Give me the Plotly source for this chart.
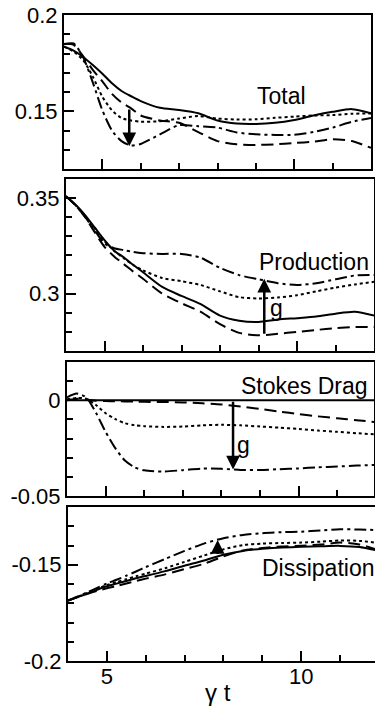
import plotly.graph_objects as go

W, H = 375, 709

# ---------------- data ----------------
t = [4.0, 4.25, 4.5, 4.75, 5.0, 5.25, 5.5, 5.75, 6.0, 6.5, 7.0, 7.5, 8.0,
     8.5, 9.0, 9.5, 10.0, 10.5, 11.0, 11.5, 12.0]

total_solid = [0.1835, 0.1815, 0.1782, 0.1740, 0.1695, 0.1645, 0.1605, 0.1578, 0.1553, 0.1518,
               0.1507, 0.1490, 0.1452, 0.1436, 0.1434, 0.1440, 0.1455, 0.1478, 0.1497, 0.1511, 0.1490]
total_dotted = [0.1835, 0.1810, 0.1765, 0.1680, 0.1575, 0.1505, 0.1465, 0.1452, 0.1446, 0.1448,
                0.1462, 0.1475, 0.1462, 0.1457, 0.1458, 0.1466, 0.1472, 0.1478, 0.1480, 0.1487, 0.1488]
total_dashed = [0.1850, 0.1845, 0.1785, 0.1715, 0.1655, 0.1590, 0.1545, 0.1515, 0.1478, 0.1452,
                0.1440, 0.1392, 0.1345, 0.1328, 0.1325, 0.1328, 0.1335, 0.1342, 0.1355, 0.1345, 0.1310]
total_dashdot = [0.1848, 0.1852, 0.1780, 0.1650, 0.1505, 0.1400, 0.1345, 0.1322, 0.1330, 0.1380,
                 0.1428, 0.1422, 0.1415, 0.1390, 0.1380, 0.1377, 0.1378, 0.1392, 0.1415, 0.1445, 0.1465]

prod_solid = [0.3510, 0.3465, 0.3410, 0.3345, 0.3280, 0.3225, 0.3190, 0.3150, 0.3112, 0.3035,
              0.2988, 0.2945, 0.2885, 0.2858, 0.2852, 0.2865, 0.2872, 0.2880, 0.2895, 0.2905, 0.2885]
prod_dotted = [0.3510, 0.3462, 0.3405, 0.3340, 0.3275, 0.3225, 0.3185, 0.3150, 0.3122, 0.3082,
               0.3065, 0.3045, 0.3012, 0.2982, 0.2975, 0.2980, 0.2992, 0.3012, 0.3032, 0.3048, 0.3062]
prod_dashed = [0.3510, 0.3462, 0.3400, 0.3320, 0.3245, 0.3195, 0.3155, 0.3115, 0.3078, 0.3000,
               0.2950, 0.2905, 0.2840, 0.2795, 0.2782, 0.2790, 0.2800, 0.2810, 0.2820, 0.2825, 0.2825]
prod_dashdot = [0.3510, 0.3462, 0.3400, 0.3330, 0.3262, 0.3238, 0.3228, 0.3218, 0.3212, 0.3208,
                0.3208, 0.3188, 0.3135, 0.3097, 0.3075, 0.3055, 0.3045, 0.3055, 0.3075, 0.3095, 0.3098]

stokes_solid = [0.0] * 21
stokes_dotted = [0.0005, 0.0012, 0.0008, -0.0025, -0.0068, -0.0098, -0.0120, -0.0130, -0.0135, -0.0139,
                 -0.0137, -0.0131, -0.0128, -0.0131, -0.0137, -0.0143, -0.0150, -0.0158, -0.0165, -0.0172, -0.0178]
stokes_dashed = [0.0000, 0.0008, 0.0003, -0.0002, -0.0004, -0.0005, -0.0006, -0.0007, -0.0008, -0.0009,
                 -0.0011, -0.0016, -0.0022, -0.0033, -0.0045, -0.0059, -0.0072, -0.0084, -0.0094, -0.0104, -0.0114]
stokes_dashdot = [0.0015, 0.0035, 0.0015, -0.0065, -0.0165, -0.0250, -0.0315, -0.0350, -0.0366, -0.0372,
                  -0.0365, -0.0357, -0.0358, -0.0364, -0.0364, -0.0360, -0.0356, -0.0350, -0.0346, -0.0341, -0.0338]

diss_solid = [-0.1686, -0.1668, -0.1650, -0.1630, -0.1612, -0.1598, -0.1584, -0.1570, -0.1558, -0.1533,
              -0.1505, -0.1478, -0.1448, -0.1428, -0.1417, -0.1410, -0.1407, -0.1404, -0.1402, -0.1408, -0.1428]
diss_dotted = [-0.1686, -0.1666, -0.1646, -0.1625, -0.1605, -0.1590, -0.1575, -0.1560, -0.1546, -0.1518,
               -0.1485, -0.1452, -0.1420, -0.1398, -0.1390, -0.1387, -0.1385, -0.1380, -0.1374, -0.1376, -0.1387]
diss_dashed = [-0.1686, -0.1668, -0.1651, -0.1636, -0.1622, -0.1610, -0.1597, -0.1584, -0.1572, -0.1550,
               -0.1522, -0.1495, -0.1457, -0.1426, -0.1413, -0.1405, -0.1401, -0.1395, -0.1385, -0.1395, -0.1425]
diss_dashdot = [-0.1686, -0.1665, -0.1643, -0.1620, -0.1597, -0.1578, -0.1557, -0.1535, -0.1512, -0.1470,
                -0.1428, -0.1390, -0.1362, -0.1345, -0.1336, -0.1331, -0.1328, -0.1322, -0.1316, -0.1317, -0.1320]

panel_names = ["Total", "Production", "Stokes Drag", "Dissipation"]
y_major = [[0.15, 0.2], [0.3, 0.35], [-0.05, 0.0], [-0.2, -0.15]]
y_major_text = [["0.15", "0.2"], ["0.3", "0.35"], ["-0.05", "0"], ["-0.2", "-0.15"]]
y_minor = [[0.13, 0.14, 0.16, 0.17, 0.18, 0.19],
           [0.28, 0.29, 0.31, 0.32, 0.33, 0.34],
           [-0.04, -0.03, -0.02, -0.01, 0.01],
           [-0.19, -0.18, -0.17, -0.16, -0.14, -0.13]]
y_ranges = [[0.12, 0.2], [0.27, 0.36], [-0.05, 0.02], [-0.2, -0.12]]
x_major = [5, 10]
x_major_text = ["5", "10"]
x_minor = [6, 7, 8, 9, 11]

# arrows: (x, tail y, head y)
arrows = [(5.70, 0.1517, 0.1318), (9.15, 0.2782, 0.3078), (8.30, 0.0, -0.0361), (7.85, -0.1452, -0.1372)]

# ---------------- layout geometry (pixels) ----------------
x_px = [(64, 371), (66, 374), (67, 374), (68, 375)]
x_rng = [[4, 12], [4, 12], [4, 11.95], [4, 11.9]]
y_px = [(15, 169), (179, 351), (362, 496), (507, 661)]

series = [
    [total_solid, total_dotted, total_dashed, total_dashdot],
    [prod_solid, prod_dotted, prod_dashed, prod_dashdot],
    [stokes_solid, stokes_dotted, stokes_dashed, stokes_dashdot],
    [diss_solid, diss_dotted, diss_dashed, diss_dashdot],
]
dashes = ["solid", "3px,3px", "12px,6px", "12px,4px,3px,4px"]

FONT = "Liberation Sans, Arial, Helvetica, sans-serif"
fig = go.Figure()
layout = dict(template="none", width=W, height=H, autosize=False,
              margin=dict(l=0, r=0, t=0, b=0, pad=0),
              paper_bgcolor="white", plot_bgcolor="white", showlegend=False,
              font=dict(family=FONT, size=22, color="black"))

annotations = []
for i in range(4):
    k = "" if i == 0 else str(i + 1)
    xa, ya = "x" + k, "y" + k
    for s, d in zip(series[i], dashes):
        fig.add_trace(go.Scatter(x=t, y=s, mode="lines", xaxis=xa, yaxis=ya,
                                 line=dict(color="black", width=2, dash=d, shape="spline", smoothing=0.7),
                                 hoverinfo="skip"))
    layout["xaxis" + k] = dict(
        domain=[x_px[i][0] / W, x_px[i][1] / W], range=x_rng[i], anchor=ya, automargin=False,
        showline=True, linecolor="black", linewidth=2, mirror=True,
        showgrid=False, zeroline=False,
        tickmode="array", tickvals=x_major, ticktext=x_major_text,
        ticks="inside", ticklen=10, tickwidth=1.5, tickcolor="black",
        showticklabels=(i == 3), tickfont=dict(size=22), ticklabelstandoff=-5,
        minor=dict(tickmode="array", tickvals=x_minor, ticks="inside", ticklen=6,
                   tickwidth=1.5, tickcolor="black"),
    )
    layout["yaxis" + k] = dict(
        domain=[1 - y_px[i][1] / H, 1 - y_px[i][0] / H], range=y_ranges[i], anchor=xa, automargin=False,
        showline=True, linecolor="black", linewidth=2, mirror=True,
        showgrid=False, zeroline=False,
        tickmode="array", tickvals=y_major[i], ticktext=y_major_text[i],
        ticks="inside", ticklen=10, tickwidth=1.5, tickcolor="black",
        tickfont=dict(size=22),
        minor=dict(tickmode="array", tickvals=y_minor[i], ticks="inside", ticklen=6,
                   tickwidth=1.5, tickcolor="black"),
    )
    ax_, tail, head = arrows[i]
    annotations.append(dict(xref=xa, yref=ya, axref=xa, ayref=ya, x=ax_, y=head, ax=ax_, ay=tail,
                            text="", showarrow=True, arrowhead=2, arrowsize=1.1, arrowwidth=2.5,
                            arrowcolor="black", standoff=0, startstandoff=0))

# panel titles and labels (pixel centres)
labels = [("Total", 281, 96), ("Production", 314, 262), ("Stokes Drag", 304, 386),
          ("Dissipation", 318, 568), ("g", 276, 308), ("g", 244, 445)]
for txt, px, py in labels:
    annotations.append(dict(xref="paper", yref="paper", x=px / W, y=1 - py / H, text=txt,
                            showarrow=False, xanchor="center", yanchor="middle",
                            font=dict(family=FONT, size=23, color="black")))
annotations.append(dict(xref="paper", yref="paper", x=218 / W, y=1 - 692 / H, text="γ t",
                        showarrow=False, xanchor="center", yanchor="middle",
                        font=dict(family=FONT, size=24, color="black")))
layout["annotations"] = annotations
fig.update_layout(**layout)
fig.write_html("out.html")
